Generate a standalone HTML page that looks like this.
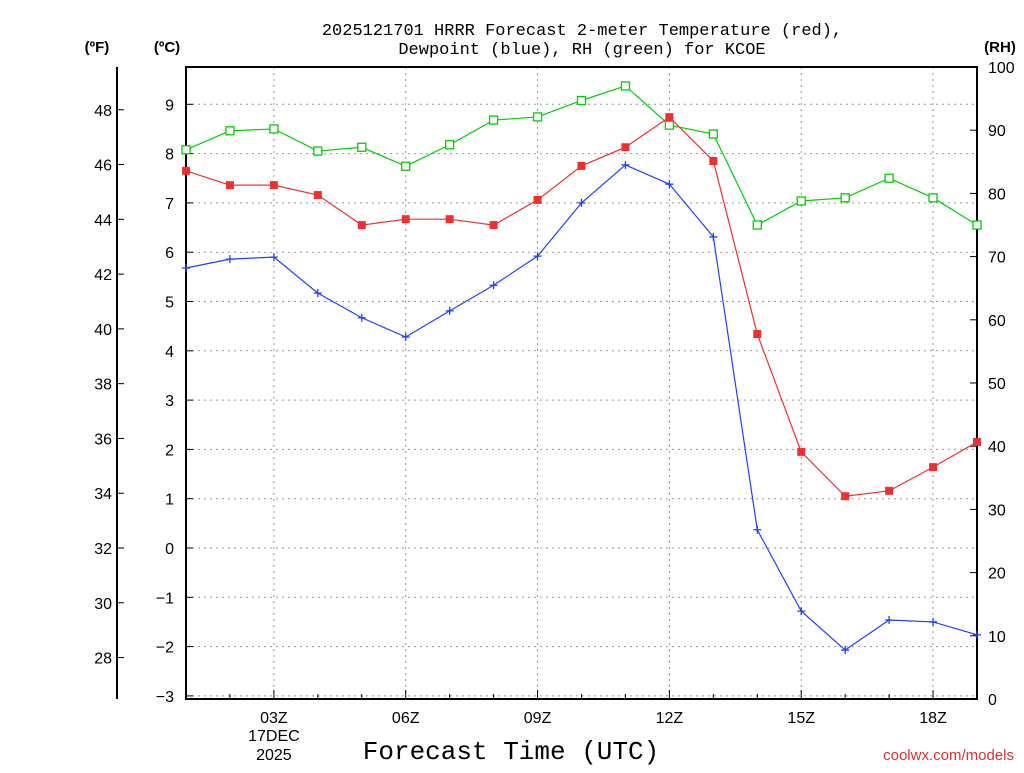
<!DOCTYPE html>
<html><head><meta charset="utf-8"><style>
body{margin:0;background:#fff;width:1024px;height:768px;overflow:hidden}
svg text{font-family:"Liberation Sans",sans-serif}
svg text.mono{font-family:"Liberation Mono",monospace}
</style></head><body>
<svg id="c" width="1024" height="768">
<text class="mono" x="582" y="35" text-anchor="middle" font-size="17">2025121701 HRRR Forecast 2-meter Temperature (red),</text>
<text class="mono" x="582" y="54" text-anchor="middle" font-size="17">Dewpoint (blue), RH (green) for KCOE</text>
<text x="97" y="52" text-anchor="middle" font-size="15" font-weight="bold">(ºF)</text>
<text x="167" y="52" text-anchor="middle" font-size="15" font-weight="bold">(ºC)</text>
<text x="1000" y="52" text-anchor="middle" font-size="15" font-weight="bold">(RH)</text>
<text class="mono" x="511" y="759" text-anchor="middle" font-size="26">Forecast Time (UTC)</text>
<text x="1014" y="760" text-anchor="end" font-size="15" fill="#e03030">coolwx.com/models</text>
<g id="grid"></g><g id="axes"></g><g id="series"></g>
</svg>
<script>
const hours=[1,2,3,4,5,6,7,8,9,10,11,12,13,14,15,16,17,18,19];
const tempC=[7.65,7.36,7.36,7.16,6.55,6.67,6.67,6.55,7.06,7.75,8.13,8.74,7.85,4.34,1.95,1.05,1.16,1.64,2.15];
const dewC=[5.68,5.86,5.90,5.17,4.67,4.28,4.81,5.33,5.92,7.0,7.77,7.38,6.31,0.37,-1.28,-2.07,-1.46,-1.50,-1.76];
const rh=[86.9,89.9,90.2,86.7,87.3,84.3,87.7,91.6,92.1,94.7,97.0,90.8,89.4,75.0,78.8,79.3,82.4,79.3,75.0];
const cTicks=[-3,-2,-1,0,1,2,3,4,5,6,7,8,9];
const fTicks=[28,30,32,34,36,38,40,42,44,46,48];
const rhTicks=[0,10,20,30,40,50,60,70,80,90,100];
const xLabelHours=[3,6,9,12,15,18];
const L=186,R=977,T=67,B=699;
const X=h=>L+(h-1)*(R-L)/18;
const YC=c=>548-c*49.3;
const YF=f=>YC((f-32)/1.8);
const YR=r=>B-r*(B-T)/100;
const NS='http://www.w3.org/2000/svg';
function mk(p,t,a){const e=document.createElementNS(NS,t);for(const k in a)e.setAttribute(k,a[k]);document.getElementById(p).appendChild(e);return e;}
const fmt=v=>v<0?'\u2212'+(-v):''+v;
cTicks.forEach(c=>{if(c<9.8&&c>-3.1){let y=YC(c);
 let g=mk('grid','line',{x1:L,x2:R,y1:y,y2:y,stroke:'#999','stroke-dasharray':'2,4'});
 
 let t=mk('axes','line',{x1:L,x2:L+7,y1:y,y2:y,stroke:'#000'});
 
 let l=mk('axes','text',{x:174,y:y+6,'text-anchor':'end','font-size':16});l.textContent=fmt(c);
 }});
xLabelHours.forEach(h=>{let x=X(h);
 let g=mk('grid','line',{x1:x,x2:x,y1:T,y2:B,stroke:'#999','stroke-dasharray':'2,4'});
 
 let l=mk('axes','text',{x:x,y:723,'text-anchor':'middle','font-size':16});l.textContent=String(h).padStart(2,'0')+'Z';
 });
hours.forEach(h=>{let x=X(h);let len=xLabelHours.includes(h)?9:5;
 let t=mk('axes','line',{x1:x,x2:x,y1:B,y2:B-len,stroke:'#000'});
 });
[['17DEC',741],['2025',760]].forEach(([s,y])=>{let l=mk('axes','text',{x:X(3),y:y,'text-anchor':'middle','font-size':16});l.textContent=s;
 });
fTicks.forEach(f=>{let y=YF(f);
 let t=mk('axes','line',{x1:117,x2:124,y1:y,y2:y,stroke:'#000'});
 
 let l=mk('axes','text',{x:112,y:y+6,'text-anchor':'end','font-size':16});l.textContent=f;
 });
rhTicks.forEach(r=>{let y=YR(r);
 let t=mk('axes','line',{x1:R,x2:R-7,y1:y,y2:y,stroke:'#000'});
 
 let l=mk('axes','text',{x:988,y:y+6,'font-size':16});l.textContent=r;
 });
let fr=mk('axes','rect',{x:L,y:T,width:R-L,height:B-T,fill:'none',stroke:'#000','stroke-width':2});

let fa=mk('axes','line',{x1:117,x2:117,y1:T,y2:B,stroke:'#000','stroke-width':2});

function series(vals,yf,col,name,marker){
 let p=mk('series','polyline',{points:vals.map((v,i)=>X(hours[i])+','+yf(v)).join(' '),fill:'none',stroke:col,'stroke-width':1.2});
 
 vals.forEach((v,i)=>{let x=X(hours[i]),y=yf(v),m;
  if(marker==='sq')m=mk('series','rect',{x:x-4,y:y-4,width:8,height:8,fill:col});
  else if(marker==='open')m=mk('series','rect',{x:x-4,y:y-4,width:8,height:8,fill:'#fff',stroke:col,'stroke-width':1.3});
  else m=mk('series','path',{d:`M${x-4} ${y}H${x+4}M${x} ${y-4}V${y+4}`,stroke:col,'stroke-width':1.3});
  });}
series(rh,YR,'#00d000','rh','open');
series(tempC,YC,'#f03030','temperature','sq');
series(dewC,YC,'#2040ff','dewpoint','plus');
</script>
</body></html>
